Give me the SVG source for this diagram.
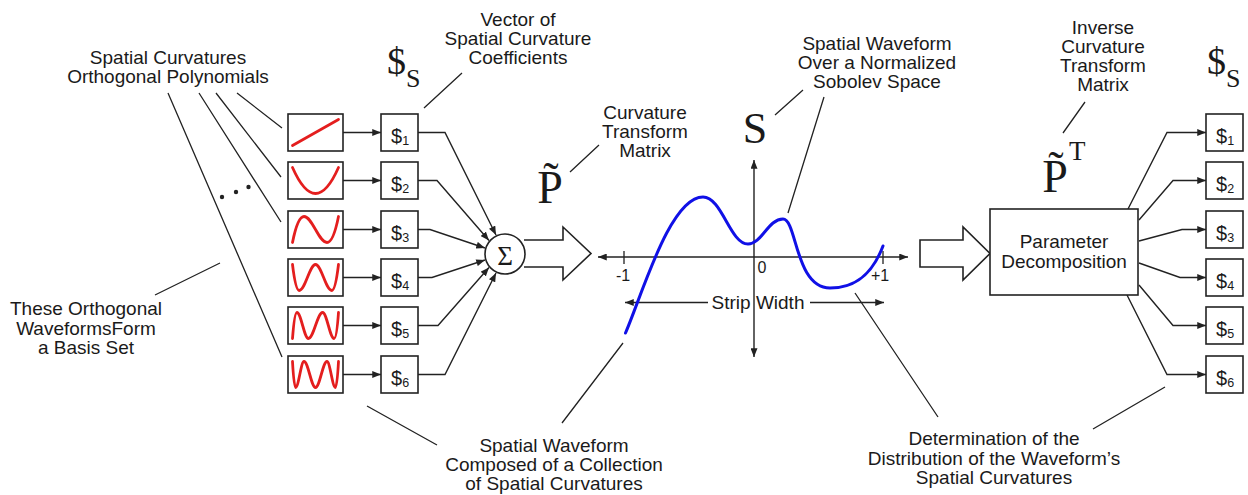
<svg xmlns="http://www.w3.org/2000/svg" width="1248" height="495" viewBox="0 0 1248 495">
<defs>
<marker id="ah" viewBox="0 0 10 8" refX="10" refY="4" markerWidth="9" markerHeight="7" markerUnits="userSpaceOnUse" orient="auto-start-reverse"><path d="M0,0 L10,4 L0,8 z" fill="#222"/></marker>
</defs>
<style>
.t{font-family:"Liberation Sans",Arial,sans-serif;font-size:19px;fill:#1a1a1a;text-anchor:middle}
.n{font-family:"Liberation Sans",Arial,sans-serif;font-size:16px;fill:#1a1a1a;text-anchor:middle}
.s{font-family:"Liberation Serif","Times New Roman",serif;fill:#1a1a1a}
.box{fill:#fff;stroke:#222;stroke-width:1.6}
.wave{fill:none;stroke:#e41e1e;stroke-width:2.8;stroke-linecap:round;stroke-linejoin:round}
.ln{fill:none;stroke:#222;stroke-width:1.3}
.arr{fill:none;stroke:#222;stroke-width:1.4;marker-end:url(#ah)}
.arr2{fill:none;stroke:#222;stroke-width:1.4;marker-end:url(#ah);marker-start:url(#ah)}
.d{font-family:"Liberation Sans",Arial,sans-serif;font-size:20px;fill:#1a1a1a}
.sub{font-size:12.5px}
.hollow{fill:#fff;stroke:#222;stroke-width:1.6}
</style>

<g id="label-spatial-curvatures">
<text class="t"><tspan x="168" y="63.5">Spatial Curvatures</tspan><tspan x="168" y="82.5">Orthogonal Polynomials</tspan></text>
</g>
<g id="label-basis-set">
<text class="t"><tspan x="86" y="315">These Orthogonal</tspan><tspan x="86" y="334.5">WaveformsForm</tspan><tspan x="86" y="354">a Basis Set</tspan></text>
</g>
<g id="label-vector">
<text class="t"><tspan x="518" y="25.5">Vector of</tspan><tspan x="518" y="44.5">Spatial Curvature</tspan><tspan x="518" y="63.5">Coefficients</tspan></text>
</g>
<g id="label-curvature-transform">
<text class="t"><tspan x="645" y="118.5">Curvature</tspan><tspan x="645" y="138">Transform</tspan><tspan x="645" y="157">Matrix</tspan></text>
</g>
<g id="label-sobolev">
<text class="t"><tspan x="877" y="50">Spatial Waveform</tspan><tspan x="877" y="69">Over a Normalized</tspan><tspan x="877" y="88">Sobolev Space</tspan></text>
</g>
<g id="label-inverse">
<text class="t"><tspan x="1103" y="33.5">Inverse</tspan><tspan x="1103" y="52.5">Curvature</tspan><tspan x="1103" y="72">Transform</tspan><tspan x="1103" y="91">Matrix</tspan></text>
</g>
<g id="label-composed">
<text class="t"><tspan x="554" y="452">Spatial Waveform</tspan><tspan x="554" y="471">Composed of a Collection</tspan><tspan x="554" y="490">of Spatial Curvatures</tspan></text>
</g>
<g id="label-determination">
<text class="t"><tspan x="994" y="445">Determination of the</tspan><tspan x="994" y="464.5">Distribution of the Waveform’s</tspan><tspan x="994" y="483.5">Spatial Curvatures</tspan></text>
</g>

<g id="sym-ss-left"><text class="s" x="387" y="74" font-size="38">$<tspan font-size="26" dy="13">S</tspan></text></g>
<g id="sym-ss-right"><text class="s" x="1207" y="74" font-size="38">$<tspan font-size="26" dy="13">S</tspan></text></g>
<g id="sym-s"><text class="s" x="755" y="143" font-size="44" text-anchor="middle">S</text></g>
<g id="sym-p-left">
<text class="s" x="550" y="203" font-size="46" text-anchor="middle">P&#x303;</text>
</g>
<g id="sym-p-right">
<text class="s" x="1055" y="192" font-size="46" text-anchor="middle">P&#x303;</text>
<text class="s" x="1069" y="160" font-size="27">T</text>
</g>

<g id="connectors">
<path class="ln" d="M237,93 L282,128 M216,93 L281,177 M199,93 L281,222 M168,93 L282,357 M155,295 L220,263 M424,108 L462,73 M570,172 L599,145 M775,115 L803,90 M824,97 L788,213 M1085,102 L1063,133 M367,406 L437,445 M562,423 L623,343 M855,293 L938,417 M1165,387 L1093,429"/>
<path class="arr" d="M343,132.5 H381"/>
<path class="arr" d="M343,180.5 H381"/>
<path class="arr" d="M343,229.5 H381"/>
<path class="arr" d="M343,277.5 H381"/>
<path class="arr" d="M343,325.5 H381"/>
<path class="arr" d="M343,374.5 H381"/>
<path class="arr" d="M418,132.5 H445 L496,235"/>
<path class="arr" d="M418,180.5 H437 L489,240.5"/>
<path class="arr" d="M418,229.5 H430 L485,248"/>
<path class="arr" d="M418,277.5 H432 L485,260"/>
<path class="arr" d="M418,325.5 H438 L489,267.5"/>
<path class="arr" d="M418,374.5 H445 L496,273"/>
<path class="arr" d="M1128,209 L1167,132.5 H1206"/>
<path class="arr" d="M1139,220 L1173,180.5 H1206"/>
<path class="arr" d="M1139,241 L1182,229.5 H1206"/>
<path class="arr" d="M1139,263 L1180,277.5 H1206"/>
<path class="arr" d="M1139,285 L1173,325.5 H1206"/>
<path class="arr" d="M1127,295 L1167,374.5 H1206"/>
<circle cx="222" cy="197" r="2.2" fill="#222"/>
<circle cx="236" cy="192" r="2.2" fill="#222"/>
<circle cx="248.5" cy="187" r="2.2" fill="#222"/>
</g>

<g id="wave1" transform="translate(288,114)"><rect class="box" width="55" height="37"/><path class="wave" d="M4.5,31.5 L50.5,5.5"/></g>
<g id="wave2" transform="translate(288,162)"><rect class="box" width="55" height="37"/><path class="wave" d="M4.5,5.5 Q27.5,57.5 50.5,5.5"/></g>
<g id="wave3" transform="translate(288,211)"><rect class="box" width="55" height="37"/><path class="wave" d="M4.5,31.5 C7,19 10.8,5.5 16,5.5 C24.4,5.5 30.6,31.5 39,31.5 C44.2,31.5 48,18 50.5,5.5"/></g>
<g id="wave4" transform="translate(288,259)"><rect class="box" width="55" height="37"/><path class="wave" d="M4.5,5.5 C6,18 8.2,31.5 11.24,31.5 C17.16,31.5 21.58,5.5 27.5,5.5 C33.42,5.5 37.84,31.5 43.76,31.5 C46.8,31.5 49,18 50.5,5.5"/></g>
<g id="wave5" transform="translate(288,307)"><rect class="box" width="55" height="37"/><path class="wave" d="M4.5,31.5 C5.47,19 6.91,5.5 8.89,5.5 C13.08,5.5 16.2,31.5 20.39,31.5 C25.57,31.5 29.43,5.5 34.61,5.5 C38.8,5.5 41.92,31.5 46.11,31.5 C48.09,31.5 49.53,19 50.5,5.5"/></g>
<g id="wave6" transform="translate(288,356)"><rect class="box" width="55" height="37"/><path class="wave" d="M4.5,5.5 C5.18,18 6.19,31.5 7.58,31.5 C10.65,31.5 12.93,5.5 16,5.5 C20.19,5.5 23.31,31.5 27.5,31.5 C31.69,31.5 34.81,5.5 39,5.5 C42.07,5.5 44.35,31.5 47.42,31.5 C48.81,31.5 49.82,18 50.5,5.5"/></g>

<g id="coef-left-1"><rect class="box" x="381" y="114" width="37" height="37"/><text class="d" x="391" y="143">$<tspan class="sub" dy="2">1</tspan></text></g>
<g id="coef-left-2"><rect class="box" x="381" y="162" width="37" height="37"/><text class="d" x="391" y="191">$<tspan class="sub" dy="2">2</tspan></text></g>
<g id="coef-left-3"><rect class="box" x="381" y="211" width="37" height="37"/><text class="d" x="391" y="240">$<tspan class="sub" dy="2">3</tspan></text></g>
<g id="coef-left-4"><rect class="box" x="381" y="259" width="37" height="37"/><text class="d" x="391" y="288">$<tspan class="sub" dy="2">4</tspan></text></g>
<g id="coef-left-5"><rect class="box" x="381" y="307" width="37" height="37"/><text class="d" x="391" y="336">$<tspan class="sub" dy="2">5</tspan></text></g>
<g id="coef-left-6"><rect class="box" x="381" y="356" width="37" height="37"/><text class="d" x="391" y="385">$<tspan class="sub" dy="2">6</tspan></text></g>

<g id="sum-arrow"><path class="hollow" d="M524,240 H563 V227 L591,253.5 L563,280 V267 H524"/></g>
<g id="sigma"><circle cx="505" cy="254" r="20" fill="#fff" stroke="#222" stroke-width="1.6"/><text class="s" x="505" y="264.5" font-size="27" text-anchor="middle">Σ</text></g>

<g id="graph">
<path class="arr2" d="M598,257 H908"/>
<path class="arr2" d="M754,160 V357"/>
<path class="ln" d="M624,251 V264 M883,251 V264"/>
<path class="arr" d="M708,302.5 H625"/>
<path class="arr" d="M810,302.5 H884"/>
<text class="t" x="758" y="309">Strip Width</text>
<text class="n" x="623" y="281">-1</text>
<text class="n" x="762" y="273">0</text>
<text class="n" x="880" y="281">+1</text>
<path d="M625.5,333 C642,295 670,197 703,197 C722,197 730,244 748,244 C762,244 768,219 783,219 C797,219 795,288 830,288 C855,288 872,275 883,246" fill="none" stroke="#1010e6" stroke-width="3" stroke-linecap="round"/>
</g>

<g id="decomp-arrow"><path class="hollow" d="M920,240 H963 V227 L990,253.5 L963,280 V267 H920 Z"/></g>
<g id="param-decomp"><rect class="box" x="990" y="209" width="148" height="86"/>
<text class="t"><tspan x="1064" y="248">Parameter</tspan><tspan x="1064" y="268">Decomposition</tspan></text></g>

<g id="coef-right-1"><rect class="box" x="1206" y="114" width="37" height="37"/><text class="d" x="1216" y="143">$<tspan class="sub" dy="2">1</tspan></text></g>
<g id="coef-right-2"><rect class="box" x="1206" y="162" width="37" height="37"/><text class="d" x="1216" y="191">$<tspan class="sub" dy="2">2</tspan></text></g>
<g id="coef-right-3"><rect class="box" x="1206" y="211" width="37" height="37"/><text class="d" x="1216" y="240">$<tspan class="sub" dy="2">3</tspan></text></g>
<g id="coef-right-4"><rect class="box" x="1206" y="259" width="37" height="37"/><text class="d" x="1216" y="288">$<tspan class="sub" dy="2">4</tspan></text></g>
<g id="coef-right-5"><rect class="box" x="1206" y="307" width="37" height="37"/><text class="d" x="1216" y="336">$<tspan class="sub" dy="2">5</tspan></text></g>
<g id="coef-right-6"><rect class="box" x="1206" y="356" width="37" height="37"/><text class="d" x="1216" y="385">$<tspan class="sub" dy="2">6</tspan></text></g>
</svg>
